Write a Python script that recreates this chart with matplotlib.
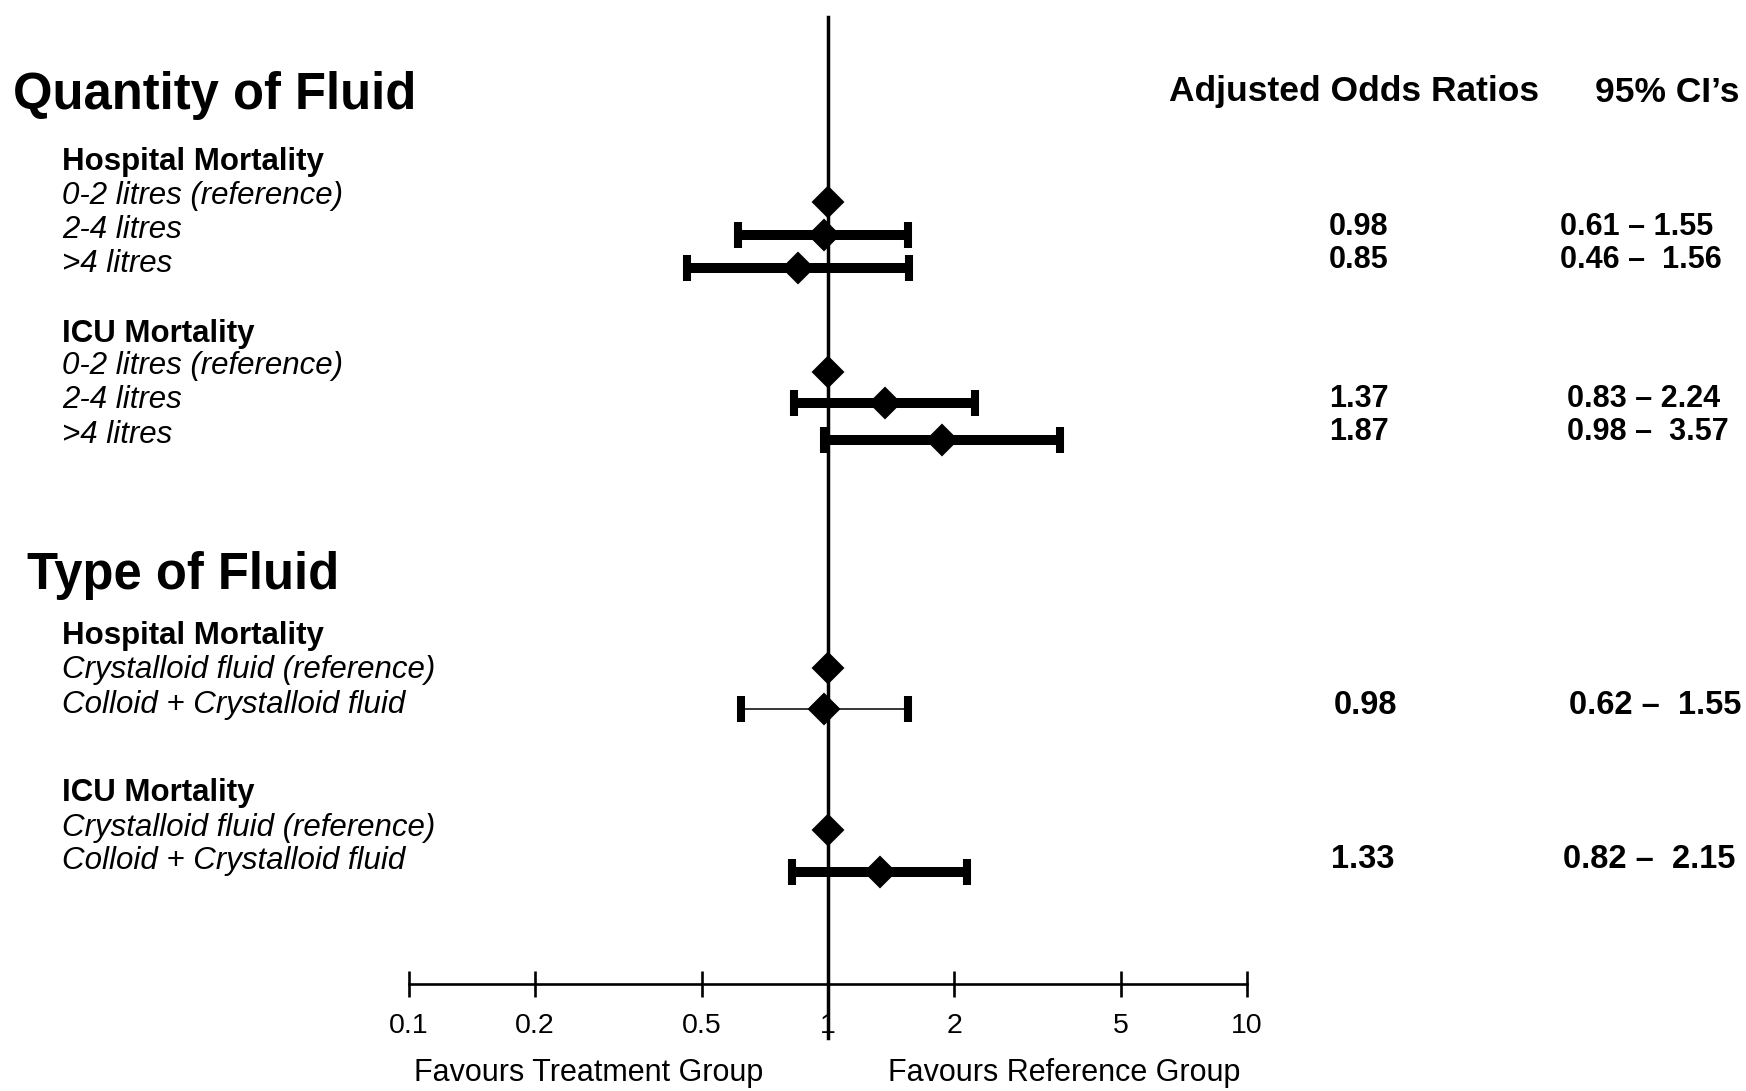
import matplotlib
matplotlib.use("Agg")
import matplotlib.pyplot as plt

plt.rcParams['font.family'] = ['Liberation Sans', 'DejaVu Sans']

# ---------------- data ----------------
quantity_labels = ['0-2 litres (reference)', '2-4 litres', '>4 litres']
hosp_q_or = [1.00, 0.98, 0.85]
hosp_q_lo = [None, 0.61, 0.46]
hosp_q_hi = [None, 1.55, 1.56]
icu_q_or = [1.00, 1.37, 1.87]
icu_q_lo = [None, 0.83, 0.98]
icu_q_hi = [None, 2.24, 3.57]

type_labels = ['Crystalloid fluid (reference)', 'Colloid + Crystalloid fluid']
hosp_t_or = [1.00, 0.98]
hosp_t_lo = [None, 0.62]
hosp_t_hi = [None, 1.55]
icu_t_or = [1.00, 1.33]
icu_t_lo = [None, 0.82]
icu_t_hi = [None, 2.15]

ci_texts_hosp_q = ['0.61 \u2013 1.55', '0.46 \u2013  1.56']
ci_texts_icu_q = ['0.83 \u2013 2.24', '0.98 \u2013  3.57']
ci_texts_hosp_t = ['0.62 \u2013  1.55']
ci_texts_icu_t = ['0.82 \u2013  2.15']

tick_values = [0.1, 0.2, 0.5, 1, 2, 5, 10]
tick_labels = ['0.1', '0.2', '0.5', '1', '2', '5', '10']

# ---------------- layout (figure pixels) ----------------
W, H = 1746, 1091
fig = plt.figure(figsize=(W / 100, H / 100), dpi=100)
fig.patch.set_facecolor('white')

AX_L, AX_R = 409, 1247      # x pixel of 0.1 and 10
AX_BOT, AX_TOP = 984, 17    # axis line and top of reference line
ax = fig.add_axes([AX_L / W, 1 - AX_BOT / H, (AX_R - AX_L) / W, (AX_BOT - AX_TOP) / H])
ax.set_xscale('log')
ax.set_xlim(0.1, 10)
ax.set_ylim(AX_BOT, AX_TOP)   # y data in figure pixel rows
ax.set_facecolor('none')
for s in ['left', 'right', 'top']:
    ax.spines[s].set_visible(False)
ax.spines['bottom'].set_linewidth(1.9)
ax.set_yticks([])
ax.minorticks_off()
ax.set_xticks(tick_values, tick_labels)
ax.tick_params(axis='x', which='major', direction='inout', length=19, width=1.9,
               labelsize=20.5, pad=11.5, colors='black')
ax.tick_params(axis='x', which='minor', bottom=False)

# reference line at OR = 1
ax.plot([1, 1], [AX_TOP, 1038], color='black', lw=2.5, clip_on=False, zorder=2)


def px(x, y):
    return x / W, 1 - y / H


def draw_group(ors, los, his, ys, elw=7.2):
    for o, lo, hi, y in zip(ors, los, his, ys):
        if lo is not None:
            ax.errorbar([o], [y], xerr=[[o - lo], [hi - o]], fmt='none', ecolor='black',
                        elinewidth=elw, capsize=9.7, capthick=5.8, clip_on=False, zorder=3)
    ax.plot(ors, ys, linestyle='none', marker='D', ms=15, color='black', mew=1.5,
            clip_on=False, zorder=4)


draw_group(hosp_q_or, hosp_q_lo, hosp_q_hi, [202, 235, 268])
draw_group(icu_q_or, icu_q_lo, icu_q_hi, [372, 403, 440])
draw_group(hosp_t_or, hosp_t_lo, hosp_t_hi, [668, 709], elw=1.1)
draw_group(icu_t_or, icu_t_lo, icu_t_hi, [830, 872])

# ---------------- left labels ----------------
LAB = 22.5
fig.text(*px(13, 95), 'Quantity of Fluid', fontsize=36.5, fontweight='bold', va='center')
fig.text(*px(62, 162), 'Hospital Mortality', fontsize=LAB, fontweight='bold', va='center')
for lab, y in zip(quantity_labels, [196, 230, 264]):
    fig.text(*px(62, y), lab, fontsize=LAB, style='italic', va='center')
fig.text(*px(62, 334), 'ICU Mortality', fontsize=LAB, fontweight='bold', va='center')
for lab, y in zip(quantity_labels, [366, 400, 435]):
    fig.text(*px(62, y), lab, fontsize=LAB, style='italic', va='center')

fig.text(*px(27, 575), 'Type of Fluid', fontsize=36.5, fontweight='bold', va='center')
fig.text(*px(62, 636), 'Hospital Mortality', fontsize=LAB, fontweight='bold', va='center')
for lab, y in zip(type_labels, [670, 705]):
    fig.text(*px(62, y), lab, fontsize=LAB, style='italic', va='center')
fig.text(*px(62, 793), 'ICU Mortality', fontsize=LAB, fontweight='bold', va='center')
for lab, y in zip(type_labels, [828, 861]):
    fig.text(*px(62, y), lab, fontsize=LAB, style='italic', va='center')

# ---------------- right columns ----------------
fig.text(*px(1169, 91), 'Adjusted Odds Ratios', fontsize=25.5, fontweight='bold', va='center')
fig.text(*px(1595, 92), '95% CI\u2019s', fontsize=25.5, fontweight='bold', va='center')

for o, y in zip(hosp_q_or[1:], [227, 260]):
    fig.text(*px(1329, y), f'{o:.2f}', fontsize=22, fontweight='bold', va='center')
for t, y in zip(ci_texts_hosp_q, [227, 260]):
    fig.text(*px(1560, y), t, fontsize=22, fontweight='bold', va='center')
for o, y in zip(icu_q_or[1:], [399, 432]):
    fig.text(*px(1329, y), f'{o:.2f}', fontsize=22, fontweight='bold', va='center')
for t, y in zip(ci_texts_icu_q, [399, 432]):
    fig.text(*px(1567, y), t, fontsize=22, fontweight='bold', va='center')

fig.text(*px(1334, 705), f'{hosp_t_or[1]:.2f}', fontsize=23.5, fontweight='bold', va='center')
fig.text(*px(1569, 705), ci_texts_hosp_t[0], fontsize=23.5, fontweight='bold', va='center')
fig.text(*px(1331, 859), f'{icu_t_or[1]:.2f}', fontsize=23.5, fontweight='bold', va='center')
fig.text(*px(1563, 859), ci_texts_icu_t[0], fontsize=23.5, fontweight='bold', va='center')

# ---------------- favours labels ----------------
fig.text(*px(589, 1073), 'Favours Treatment Group', fontsize=22, ha='center', va='center')
fig.text(*px(1064, 1073), 'Favours Reference Group', fontsize=22, ha='center', va='center')

fig.savefig('out.png', dpi=100, facecolor='white')
